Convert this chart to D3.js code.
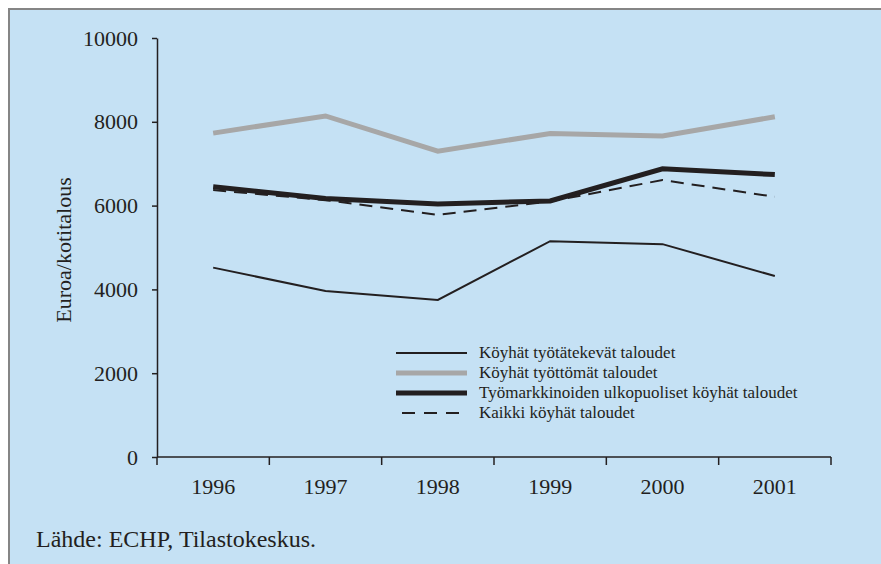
<!DOCTYPE html>
<head>
<meta charset="utf-8">
<script src="https://d3js.org/d3.v7.min.js"></script>
<style>
body {
  margin: 0;
  background: white;
  font-family: 'Liberation Serif', 'Times New Roman', serif;
  color: #231f20;
}
.axis path, .axis line {
  stroke: #231f20;
  stroke-width: 1.5;
}
.axis text {
  font-family: 'Liberation Serif', serif;
  font-size: 22px;
  fill: #231f20;
}
</style>
</head>
<body>
<div id="plotContainer"></div>
<script>

var years = ["1996", "1997", "1998", "1999", "2000", "2001"];

// euroa / kotitalous
var tyotatekevat = [4520, 3960, 3750, 5150, 5080, 4320];
var tyottomat = [7730, 8140, 7300, 7720, 7660, 8120];
var ulkopuoliset = [6450, 6170, 6040, 6110, 6880, 6740];
var kaikki = [6370, 6130, 5780, 6100, 6610, 6210];

var seriesNames = [
  "Köyhät työtätekevät taloudet",
  "Köyhät työttömät taloudet",
  "Työmarkkinoiden ulkopuoliset köyhät taloudet",
  "Kaikki köyhät taloudet"
];

var yTicks = [0, 2000, 4000, 6000, 8000, 10000];

var series = [
  {name: seriesNames[0], values: tyotatekevat, color: "#231f20", width: 2, dash: null},
  {name: seriesNames[1], values: tyottomat, color: "#a7a7a7", width: 5, dash: null},
  {name: seriesNames[2], values: ulkopuoliset, color: "#231f20", width: 5, dash: null},
  {name: seriesNames[3], values: kaikki, color: "#231f20", width: 2, dash: "13,8"}
];

var W = 881, H = 564;

var svg = d3.select("#plotContainer")
    .append("svg")
    .attr("width", W)
    .attr("height", H);

// panel background
svg.append("rect")
    .attr("x", 9).attr("y", 9)
    .attr("width", W).attr("height", H)
    .attr("fill", "#c5e1f4")
    .attr("stroke", "#858585")
    .attr("stroke-width", 2);

var x = d3.scaleBand()
    .domain(years)
    .range([157, 831]);

var y = d3.scaleLinear()
    .domain([0, 10000])
    .range([457, 38]);

var g = svg.append("g");

var xAxis = g.append("g")
    .attr("class", "axis")
    .attr("transform", "translate(0,457)")
    .call(d3.axisBottom(x).tickSize(0));
xAxis.select(".domain").remove();
xAxis.selectAll("text").attr("dy", "0.71em").attr("y", 21);

// x axis line and ticks between the categories
g.append("line")
    .attr("x1", x.range()[0]).attr("x2", x.range()[1])
    .attr("y1", y(0)).attr("y2", y(0))
    .attr("stroke", "#231f20").attr("stroke-width", 1.5);

var bounds = years.map(function(d) { return x(d); }).concat([x.range()[1]]);
g.selectAll(".xtick")
    .data(bounds)
    .enter()
    .append("line")
    .attr("class", "xtick")
    .attr("x1", function(d) { return d; })
    .attr("x2", function(d) { return d; })
    .attr("y1", y(0)).attr("y2", y(0) + 8)
    .attr("stroke", "#231f20").attr("stroke-width", 1.5);

var yAxis = g.append("g")
    .attr("class", "axis")
    .attr("transform", "translate(157,0)")
    .call(d3.axisLeft(y).tickValues(yTicks).tickFormat(d3.format("d"))
      .tickSize(5).tickPadding(14).tickSizeOuter(0));

svg.append("text")
    .attr("transform", "translate(71,250) rotate(-90)")
    .style("text-anchor", "middle")
    .style("font-size", "22px")
    .attr("fill", "#231f20")
    .text("Euroa/kotitalous");

var line = d3.line()
    .x(function(d, i) { return x(years[i]) + x.bandwidth() / 2; })
    .y(function(d) { return y(d); });

series.forEach(function(s) {
  g.append("path")
      .datum(s.values)
      .attr("d", line)
      .attr("fill", "none")
      .attr("stroke", s.color)
      .attr("stroke-width", s.width)
      .attr("stroke-dasharray", s.dash);
});

// legend
var legend = svg.append("g").attr("transform", "translate(396,353)");
series.forEach(function(s, i) {
  legend.append("line")
      .attr("x1", 0).attr("x2", 71)
      .attr("y1", i * 20).attr("y2", i * 20)
      .attr("stroke", s.color)
      .attr("stroke-width", s.width)
      .attr("stroke-dasharray", s.dash ? "13,9" : null)
      .attr("stroke-dashoffset", s.dash ? -6 : null);
  legend.append("text")
      .attr("x", 83)
      .attr("y", i * 20)
      .attr("dy", "0.32em")
      .style("font-size", "17px")
      .attr("fill", "#231f20")
      .text(s.name);
});

svg.append("text")
    .attr("x", 36)
    .attr("y", 547)
    .style("font-size", "24px")
    .attr("fill", "#231f20")
    .text("Lähde: ECHP, Tilastokeskus.");

</script>
</body>
